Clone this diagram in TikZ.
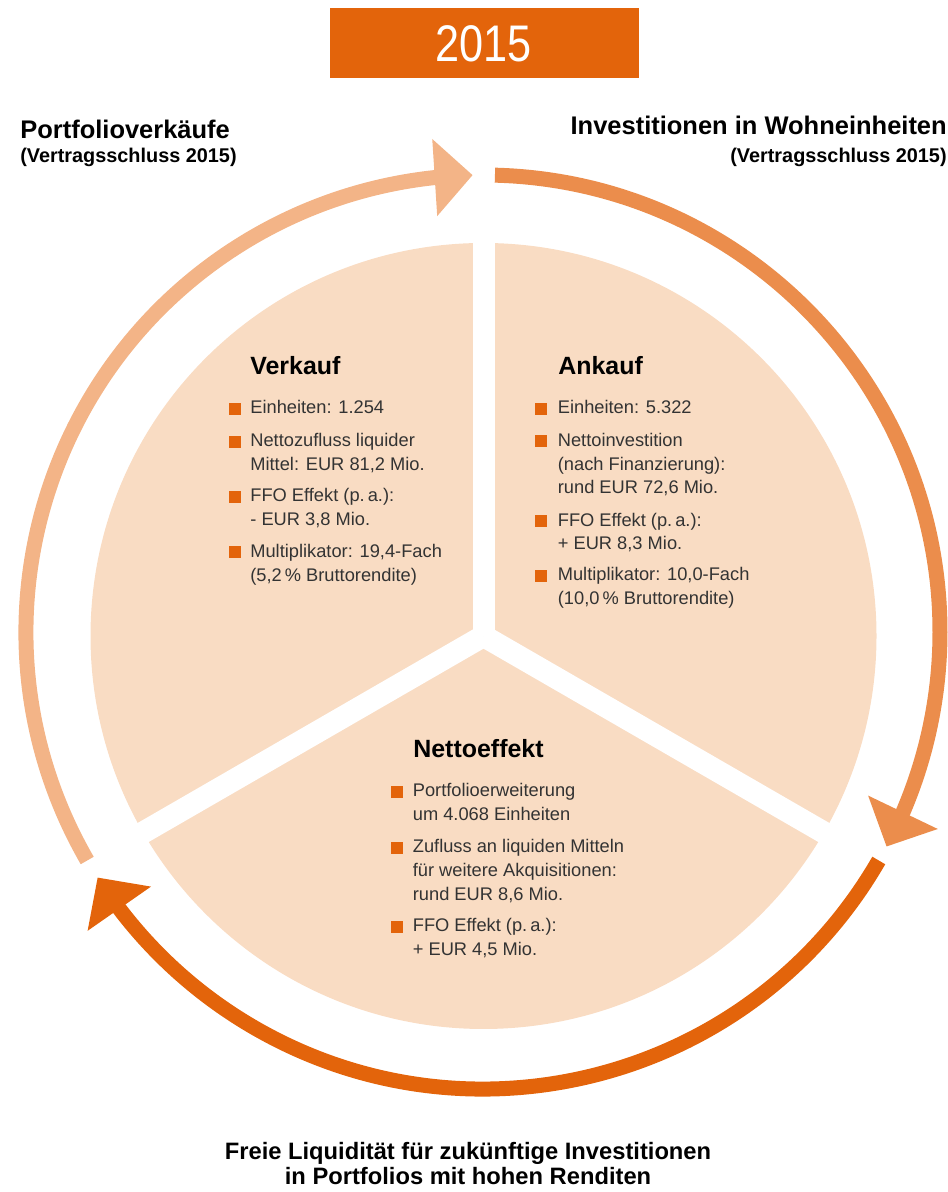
\documentclass[tikz,border=0pt]{standalone}
\usepackage{fontspec}
\setmainfont{Liberation Sans}
\newfontfamily\yearfont[FakeStretch=0.84]{Liberation Sans}
\usetikzlibrary{arrows.meta,bending}
\definecolor{darkorange}{HTML}{E3640B}
\definecolor{midorange}{HTML}{EB8D4C}
\definecolor{lightorange}{HTML}{F3B487}
\definecolor{piefill}{HTML}{F9DCC3}
\definecolor{textgray}{HTML}{333333}
\begin{document}
\begin{tikzpicture}[x=0.02cm, y=0.02cm,
  ring/.style={line width=0.3cm, -{Triangle[length=0.76cm, width=1.5cm]}},
  title/.style={inner sep=0pt, font=\fontsize{14.5}{17}\selectfont\bfseries},
  subtitle/.style={inner sep=0pt, font=\fontsize{11.3}{13}\selectfont\bfseries},
  heading/.style={anchor=base west, inner sep=0pt, font=\fontsize{14.2}{17}\selectfont\bfseries},
  entry/.style={anchor=base west, inner sep=0pt, align=left, text=textgray, font=\fontsize{10.4}{13.6}\selectfont},
  bullet/.style={fill=darkorange, minimum size=0.24cm, inner sep=0pt}]
\useasboundingbox (0,0) rectangle (947,1192);
% \draw[gray!30] (0,0) grid[step=100] (947,1192);

\fill[darkorange] (330,1114) rectangle (639,1184);
\node[text=white, inner sep=0pt, font=\yearfont\fontsize{29.3}{30}\selectfont] (Year) at (483.5,1148.5) {2015};

\node[title, anchor=base west] (Sales Title) at (20,1053) {Portfolioverkäufe};
\node[subtitle, anchor=base west] (Sales Sub) at (20,1029) {(Vertragsschluss 2015)};
\node[title, anchor=base east] (Buy Title) at (947,1057) {Investitionen in Wohneinheiten};
\node[subtitle, anchor=base east] (Buy Sub) at (947,1029) {(Vertragsschluss 2015)};
\node[title, anchor=base, font=\fontsize{13.5}{13.6}\selectfont\bfseries] (Cash Title 1) at (468,32) {Freie Liquidität für zukünftige Investitionen};
\node[title, anchor=base, font=\fontsize{13.5}{13.6}\selectfont\bfseries] (Cash Title 2) at (468,8) {in Portfolios mit hohen Renditen};

\coordinate (Ring Centre) at (483,560);
\coordinate (Pie Centre) at (483.5,556);

\fill[piefill] (Pie Centre) circle[radius=393];
\draw[white, line width=0.44cm] (Pie Centre) -- ++(90:420);
\draw[white, line width=0.44cm] (Pie Centre) -- ++(210:420);
\draw[white, line width=0.44cm] (Pie Centre) -- ++(330:420);

\draw[ring, midorange] (Ring Centre) ++(88.5:457) arc[start angle=88.5, end angle=-28, radius=457];
\draw[ring, darkorange] (Ring Centre) ++(-30:457) arc[start angle=-30, end angle=-147.5, radius=457];
\draw[ring, lightorange] (Ring Centre) ++(210:457) arc[start angle=210, end angle=91.3, radius=457];

% entries sit on the baseline of their last line
\node[heading] (Verkauf) at (250,817) {Verkauf};
\node[bullet] at (234.5,783) {};
\node[entry] (Verkauf 1) at (250,778) {Einheiten: 1.254};
\node[bullet] at (234.5,750.3) {};
\node[entry] (Verkauf 2) at (250,721.3) {Nettozufluss liquider\\Mittel: EUR 81,2 Mio.};
\node[bullet] at (234.5,695.3) {};
\node[entry] (Verkauf 3) at (250,666.3) {FFO Effekt (p.\,a.):\\- EUR 3,8 Mio.};
\node[bullet] at (234.5,639.7) {};
\node[entry] (Verkauf 4) at (250,610.7) {Multiplikator: 19,4-Fach\\(5,2\,\% Bruttorendite)};

\node[heading] (Ankauf) at (558,817) {Ankauf};
\node[bullet] at (541,783) {};
\node[entry] (Ankauf 1) at (557.5,778) {Einheiten: 5.322};
\node[bullet] at (541,751) {};
\node[entry] (Ankauf 2) at (557.5,698) {Nettoinvestition\\(nach Finanzierung):\\rund EUR 72,6 Mio.};
\node[bullet] at (541,671) {};
\node[entry] (Ankauf 3) at (557.5,642) {FFO Effekt (p.\,a.):\\+ EUR 8,3 Mio.};
\node[bullet] at (541,616.3) {};
\node[entry] (Ankauf 4) at (557.5,587.3) {Multiplikator: 10,0-Fach\\(10,0\,\% Bruttorendite)};

\node[heading] (Nettoeffekt) at (413,434.7) {Nettoeffekt};
\node[bullet] at (396.5,400.3) {};
\node[entry] (Netto 1) at (412.5,371.3) {Portfolioerweiterung\\um 4.068 Einheiten};
\node[bullet] at (396.5,344.3) {};
\node[entry] (Netto 2) at (412.5,291.3) {Zufluss an liquiden Mitteln\\für weitere Akquisitionen:\\rund EUR 8,6 Mio.};
\node[bullet] at (396.5,265.3) {};
\node[entry] (Netto 3) at (412.5,236.3) {FFO Effekt (p.\,a.):\\+ EUR 4,5 Mio.};
\end{tikzpicture}
\end{document}
